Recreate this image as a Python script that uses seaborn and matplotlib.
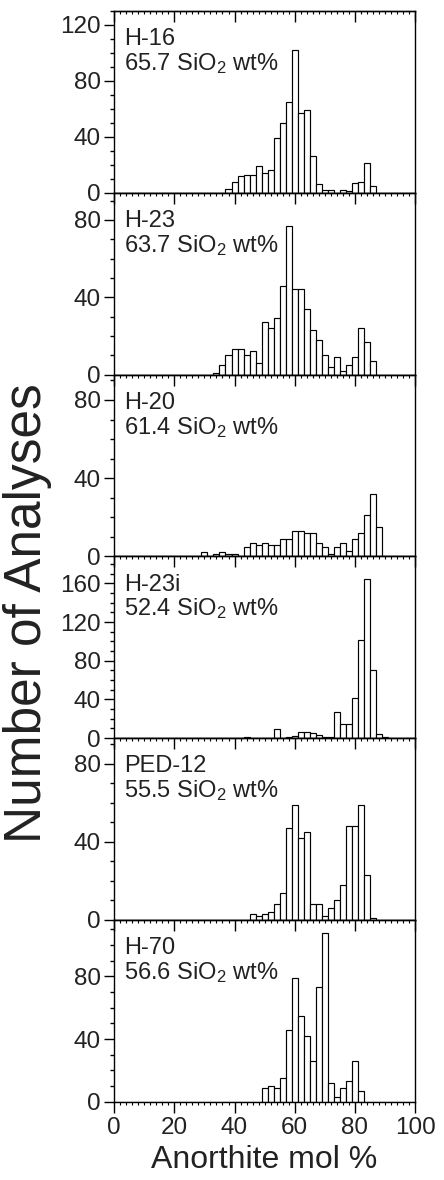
import numpy as np
import pandas as pd
import matplotlib
matplotlib.use("Agg")
import matplotlib.pyplot as plt
import seaborn as sns
from matplotlib.ticker import MultipleLocator

sns.set_theme(style="ticks")
plt.rcParams['font.family'] = ['Liberation Sans', 'DejaVu Sans']
plt.rcParams['mathtext.default'] = 'regular'

# ---- data (bin centres in An mol %, counts) ----
h16_an = [38, 40, 42, 44, 46, 48, 50, 52, 54, 56, 58, 60, 62, 64, 66, 68, 70, 72, 76, 78, 80, 82, 84, 86]
h16_n  = [3, 8, 12, 13, 13, 19, 14, 16, 39, 50, 65, 102, 57, 59, 26, 6, 2, 2, 2, 1, 7, 8, 21, 5]

h23_an = [34, 36, 38, 40, 42, 44, 46, 48, 50, 52, 54, 56, 58, 60, 62, 64, 66, 68, 70, 72, 74, 76, 78, 80, 82, 84, 86]
h23_n  = [1, 5, 10, 13, 13, 10, 12, 6, 27, 24, 29, 46, 77, 44, 44, 34, 23, 18, 10, 4, 9, 2, 5, 9, 24, 17, 7]

h20_an = [30, 34, 36, 38, 40, 44, 46, 48, 50, 52, 54, 56, 58, 60, 62, 64, 66, 68, 70, 72, 74, 76, 78, 80, 82, 84, 86, 88]
h20_n  = [2, 1, 2, 1, 1, 5, 7, 6, 7, 6, 6, 9, 9, 13, 13, 12, 12, 7, 5, 1, 5, 7, 3, 9, 12, 21, 32, 15]

h23i_an = [44, 54, 58, 60, 62, 64, 66, 68, 70, 72, 74, 76, 78, 80, 82, 84, 86, 88, 90]
h23i_n  = [1, 9, 1, 2, 6, 6, 5, 3, 1, 1, 27, 15, 15, 42, 102, 165, 70, 4, 1]

ped12_an = [46, 48, 50, 52, 54, 56, 58, 60, 62, 64, 66, 68, 70, 72, 74, 76, 78, 80, 82, 84, 86]
ped12_n  = [3, 2, 3, 4, 8, 14, 47, 59, 42, 45, 8, 8, 2, 6, 10, 18, 48, 48, 59, 23, 1]

h70_an = [50, 52, 54, 56, 58, 60, 62, 64, 66, 68, 70, 72, 74, 76, 78, 80, 82]
h70_n  = [9, 10, 9, 15, 46, 79, 55, 42, 26, 73, 108, 12, 3, 9, 13, 26, 7]

samples = ["H-16", "H-23", "H-20", "H-23i", "PED-12", "H-70"]
sio2 = ["65.7", "63.7", "61.4", "52.4", "55.5", "56.6"]
y_max = [130, 94, 93, 188, 93, 116]
x_ticks = [0, 20, 40, 60, 80, 100]

series = [(h16_an, h16_n), (h23_an, h23_n), (h20_an, h20_n),
          (h23i_an, h23i_n), (ped12_an, ped12_n), (h70_an, h70_n)]

fig, axes = plt.subplots(6, 1, figsize=(4.44, 11.8), dpi=100, sharex=True)
fig.subplots_adjust(left=0.257, right=0.935, top=0.9907, bottom=0.0663, hspace=0)

bin_edges = [float(b) for b in np.arange(-1, 103, 2)]
for i, (ax, (an, n)) in enumerate(zip(axes, series)):
    df = pd.DataFrame({"an": an, "n": n})
    sns.histplot(data=df, x="an", weights="n", bins=bin_edges, ax=ax, color='white',
                 edgecolor='black', linewidth=0.85, alpha=1.0)
    ax.set_xlim(0, 100)
    ax.set_ylim(0, y_max[i])
    ax.set_ylabel("")
    ax.set_xlabel("")
    ax.yaxis.set_major_locator(MultipleLocator(40))
    ax.yaxis.set_minor_locator(MultipleLocator(10))
    ax.xaxis.set_major_locator(MultipleLocator(20))
    ax.xaxis.set_minor_locator(MultipleLocator(2))
    ax.tick_params(axis='y', which='major', direction='out', length=7.5, width=1.0,
                   labelsize=17.5, pad=2, color='black', labelcolor='#222222')
    ax.tick_params(axis='y', which='minor', direction='out', length=3, width=1.0, color='black')
    last = (i == len(axes) - 1)
    ax.tick_params(axis='x', which='major', direction='out', length=7.7, width=1.0,
                   bottom=last, top=False, labelbottom=last, labelsize=17.5,
                   color='black', labelcolor='#222222')
    ax.tick_params(axis='x', which='minor', direction='out', length=2.2, width=0.8,
                   bottom=last, top=False, color='black')
    sec = ax.secondary_xaxis('top')
    sec.xaxis.set_major_locator(MultipleLocator(20))
    sec.xaxis.set_minor_locator(MultipleLocator(2))
    sec.tick_params(axis='x', which='major', direction='in', length=7.7, width=1.0,
                    labeltop=False, color='black')
    sec.tick_params(axis='x', which='minor', direction='in', length=2.2, width=0.8,
                    color='black')
    sec.spines['top'].set_linewidth(1.0)
    for s in ax.spines.values():
        s.set_linewidth(1.0)
        s.set_color('black')
    ax.text(0.033, 0.905, samples[i], transform=ax.transAxes, ha='left', va='top',
            fontsize=17, color='#222222')
    ax.text(0.033, 0.675, sio2[i] + " SiO$_2$ wt%", transform=ax.transAxes,
            ha='left', va='baseline', fontsize=17, color='#222222')

axes[-1].set_xticks(x_ticks)
axes[-1].set_xlabel("Anorthite mol %", fontsize=23, color='#222222', labelpad=4)
fig.text(0.062, 0.48, "Number of Analyses", rotation=90, ha='center', va='center',
         fontsize=37, color='#222222')

fig.savefig("out.png", dpi=100)
